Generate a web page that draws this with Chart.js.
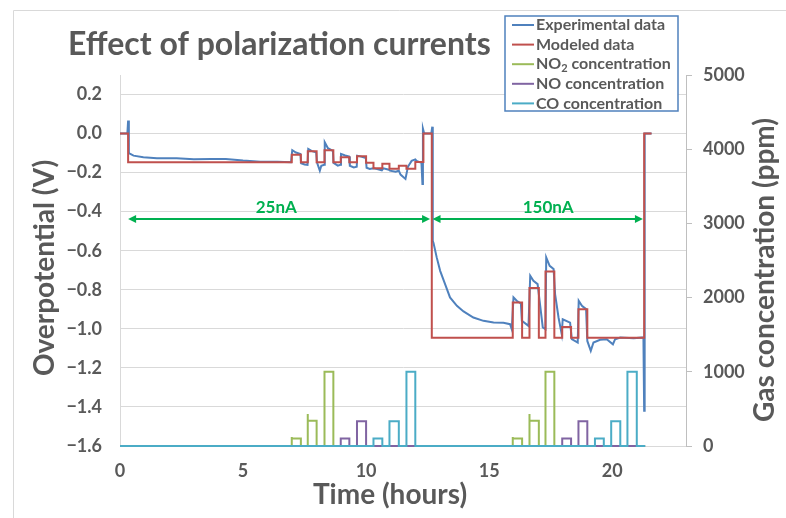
<!DOCTYPE html>
<html>
<head>
<meta charset="utf-8">
<title>Effect of polarization currents</title>
<script src="https://cdn.jsdelivr.net/npm/chart.js@4.4.1/dist/chart.umd.min.js"></script>
<style>
    html, body { margin: 0; padding: 0; background: #ffffff; }
    #wrap { width: 786px; height: 518px; position: relative; }
</style>
</head>
<body>
<div id="wrap"><canvas id="polChart"></canvas></div>
<script>
// Experimental overpotential (V) vs time (hours)
const expTime = [0, 0.30, 0.33, 0.36, 0.40, 0.55, 0.95, 1.5, 2.3, 3.0, 3.7, 4.3, 5.0, 5.7, 6.4, 6.95,
    7.00, 7.15, 7.33, 7.36, 7.50, 7.62, 7.65, 7.80, 7.97, 8.01, 8.12, 8.18, 8.30,
    8.32, 8.45, 8.65, 8.68, 8.85, 8.96, 8.98, 9.15, 9.31, 9.34, 9.50, 9.62,
    9.64, 9.80, 9.99, 10.02, 10.15, 10.29, 10.45, 10.64, 10.70, 10.93, 10.97, 11.20, 11.33,
    11.40, 11.60, 11.70, 11.85, 12.00, 12.05, 12.25, 12.29, 12.31, 12.36, 12.65, 12.69,
    12.71, 12.74, 12.87, 13.01, 13.21, 13.41, 13.69, 13.96, 14.36, 14.77, 15.18, 15.58, 15.85, 15.92,
    15.99, 16.12, 16.29, 16.33, 16.60, 16.67, 16.80, 16.97, 17.05, 17.18, 17.29,
    17.32, 17.46, 17.62, 17.68, 17.82, 17.95, 17.99, 18.29, 18.36, 18.60,
    18.64, 18.77, 18.94, 18.99, 19.13, 19.24, 19.51, 19.78, 20.03, 20.12, 20.33, 20.87, 21.27,
    21.30, 21.32, 21.60];
const expVolt = [0, 0, 0.067, -0.100, -0.103, -0.113, -0.121, -0.126, -0.126, -0.132, -0.130, -0.130, -0.138, -0.144, -0.144, -0.147,
    -0.085, -0.097, -0.104, -0.152, -0.158, -0.160, -0.079, -0.090, -0.096, -0.150, -0.190, -0.165, -0.160,
    -0.044, -0.075, -0.088, -0.150, -0.164, -0.160, -0.104, -0.112, -0.118, -0.165, -0.173, -0.170,
    -0.113, -0.118, -0.125, -0.175, -0.181, -0.178, -0.182, -0.188, -0.178, -0.185, -0.190, -0.195, -0.190,
    -0.210, -0.232, -0.170, -0.140, -0.132, -0.140, -0.150, -0.258, 0.025, 0.0, 0.0, 0.035,
    -0.549, -0.560, -0.634, -0.703, -0.771, -0.839, -0.882, -0.911, -0.942, -0.959, -0.968, -0.969, -0.976, -1.002,
    -0.839, -0.856, -0.870, -0.959, -0.985, -0.728, -0.754, -0.771, -0.856, -0.993, -1.002,
    -0.634, -0.677, -0.694, -0.822, -0.942, -1.027, -0.951, -0.968, -1.053, -1.070,
    -0.856, -0.882, -0.899, -1.062, -1.113, -1.070, -1.056, -1.053, -1.079, -1.053, -1.044, -1.048, -1.044,
    -1.420, 0.0, 0.0];

// Modeled overpotential (V), value holds until the next time
const modTime = [0, 0.33, 6.98, 7.35, 7.63, 7.99, 8.31, 8.67, 8.97, 9.32, 9.63, 10.0, 10.3, 10.66, 10.95, 11.33, 11.64, 12.0,
    12.33, 12.67, 15.96, 16.34, 16.64, 17.02, 17.29, 17.65, 17.97, 18.33, 18.63, 18.99, 21.30, 21.60];
const modVolt = [0, -0.147, -0.108, -0.147, -0.091, -0.147, -0.086, -0.147, -0.121, -0.147, -0.116, -0.150, -0.178, -0.155, -0.180, -0.165, -0.180, -0.145,
    0, -1.045, -0.865, -1.045, -0.791, -1.045, -0.706, -1.045, -0.990, -1.045, -0.900, -1.045, 0, 0];

// Gas concentrations (ppm), value holds until the next time
const no2Time = [0, 6.98, 6.98, 7.35, 7.63, 7.63, 7.99, 8.31, 8.67, 15.96, 15.96, 16.34, 16.64, 16.64, 17.02, 17.29, 17.65, 21.34];
const no2Conc = [0, 120, 100, 0, 430, 340, 0, 1000, 0, 120, 100, 0, 430, 340, 0, 1000, 0, 0];
const noTime = [0, 8.97, 9.32, 9.63, 10.0, 17.97, 18.33, 18.63, 18.99, 21.34];
const noConc = [0, 100, 0, 335, 0, 100, 0, 335, 0, 0];
const coTime = [0, 10.3, 10.66, 10.95, 11.33, 11.64, 12.0, 19.3, 19.66, 19.96, 20.33, 20.62, 21.0, 21.34];
const coConc = [0, 100, 0, 335, 0, 1000, 0, 100, 0, 335, 0, 1000, 0, 0];

// Axes
const timeTicks = [0, 5, 10, 15, 20];
const voltTicks = [-1.6, -1.4, -1.2, -1.0, -0.8, -0.6, -0.4, -0.2, 0.0, 0.2];
const concTicks = [0, 1000, 2000, 3000, 4000, 5000];

// Current annotations
const currentLabels = ['25nA', '150nA'];
const currentFrom = [0.33, 12.7];
const currentTo = [12.6, 21.25];
const currentLabelAt = [6.35, 17.4];
const currentLevel = -0.437;

const GRAY = '#595959';
const GRID = '#D9D9D9';
const FONT = 'Lato, "Open Sans", sans-serif';

function toPoints(xs, ys) {
    return xs.map((x, i) => ({ x: x, y: ys[i] }));
}

function fixedTicks(values) {
    return (scale) => { scale.ticks = values.map(v => ({ value: v })); };
}

// Title, axis titles, frame, legend and current arrows
const decorPlugin = {
    id: 'decor',
    beforeDraw(chart) {
        const ctx = chart.ctx;
        ctx.save();
        ctx.strokeStyle = GRID;
        ctx.lineWidth = 1;
        ctx.beginPath();
        ctx.moveTo(13.5, chart.height);
        ctx.lineTo(13.5, 10.5);
        ctx.lineTo(chart.width, 10.5);
        ctx.stroke();
        ctx.restore();
    },
    afterDraw(chart) {
        const ctx = chart.ctx;
        const xs = chart.scales.x;
        const ys = chart.scales.y;
        ctx.save();

        // chart title
        ctx.fillStyle = GRAY;
        ctx.font = 'bold 32px ' + FONT;
        ctx.textBaseline = 'middle';
        ctx.textAlign = 'left';
        ctx.fillText('Effect of polarization currents', 68, 45);

        // axis titles
        ctx.font = 'bold 28px ' + FONT;
        ctx.textAlign = 'center';
        ctx.fillText('Time (hours)', 390, 495);
        ctx.save();
        ctx.translate(45, 268);
        ctx.rotate(-Math.PI / 2);
        ctx.fillText('Overpotential (V)', 0, 0);
        ctx.restore();
        ctx.save();
        ctx.translate(765, 270);
        ctx.rotate(-Math.PI / 2);
        ctx.fillText('Gas concentration (ppm)', 0, 0);
        ctx.restore();

        // double arrows for the polarization currents
        const ay = ys.getPixelForValue(currentLevel);
        ctx.strokeStyle = '#00B050';
        ctx.fillStyle = '#00B050';
        ctx.lineWidth = 2;
        currentLabels.forEach((lab, i) => {
            const x1 = xs.getPixelForValue(currentFrom[i]);
            const x2 = xs.getPixelForValue(currentTo[i]);
            ctx.beginPath();
            ctx.moveTo(x1 + 6, ay);
            ctx.lineTo(x2 - 6, ay);
            ctx.stroke();
            ctx.beginPath();
            ctx.moveTo(x1, ay); ctx.lineTo(x1 + 8, ay - 4); ctx.lineTo(x1 + 8, ay + 4); ctx.closePath();
            ctx.moveTo(x2, ay); ctx.lineTo(x2 - 8, ay - 4); ctx.lineTo(x2 - 8, ay + 4); ctx.closePath();
            ctx.fill();
            ctx.font = 'bold 17px ' + FONT;
            ctx.textAlign = 'center';
            ctx.fillText(lab, xs.getPixelForValue(currentLabelAt[i]), ay - 11);
        });

        // legend box
        const lx = 505, ly = 16, lw = 173, lh = 95;
        ctx.fillStyle = '#ffffff';
        ctx.fillRect(lx, ly, lw, lh);
        ctx.strokeStyle = '#4F81BD';
        ctx.lineWidth = 1.5;
        ctx.strokeRect(lx, ly, lw, lh);
        ctx.textAlign = 'left';
        chart.data.datasets.forEach((ds, i) => {
            const ry = 25 + i * 19.6;
            ctx.strokeStyle = ds.borderColor;
            ctx.lineWidth = 2;
            ctx.beginPath();
            ctx.moveTo(512, ry);
            ctx.lineTo(534, ry);
            ctx.stroke();
            ctx.fillStyle = GRAY;
            ctx.font = 'bold 16px ' + FONT;
            if (ds.sub) {
                const [pre, post] = ds.label.split('_' + ds.sub);
                ctx.fillText(pre, 536, ry);
                let w = ctx.measureText(pre).width;
                ctx.font = 'bold 11px ' + FONT;
                ctx.fillText(ds.sub, 536 + w, ry + 4);
                w += ctx.measureText(ds.sub).width;
                ctx.font = 'bold 16px ' + FONT;
                ctx.fillText(post, 536 + w, ry);
            } else {
                ctx.fillText(ds.label, 536, ry);
            }
        });
        ctx.restore();
    }
};

const lineBase = { pointRadius: 0, borderWidth: 2, tension: 0, fill: false };
const tickFont = { family: FONT, size: 18, weight: 'bold' };

new Chart(document.getElementById('polChart'), {
    type: 'line',
    data: {
        datasets: [
            { ...lineBase, label: 'Experimental data', data: toPoints(expTime, expVolt), borderColor: '#4F81BD', yAxisID: 'y', order: 4 },
            { ...lineBase, label: 'Modeled data', data: toPoints(modTime, modVolt), borderColor: '#C0504D', stepped: 'before', yAxisID: 'y', order: 3 },
            { ...lineBase, label: 'NO_2 concentration', sub: '2', data: toPoints(no2Time, no2Conc), borderColor: '#9BBB59', stepped: 'before', yAxisID: 'y1', order: 2, clip: false },
            { ...lineBase, label: 'NO concentration', data: toPoints(noTime, noConc), borderColor: '#8064A2', stepped: 'before', yAxisID: 'y1', order: 1, clip: false },
            { ...lineBase, label: 'CO concentration', data: toPoints(coTime, coConc), borderColor: '#4BACC6', stepped: 'before', yAxisID: 'y1', order: 0, clip: false }
        ]
    },
    options: {
        responsive: true,
        maintainAspectRatio: false,
        animation: false,
        layout: { padding: { top: 75, left: 0, right: 0, bottom: 0 } },
        plugins: { legend: { display: false }, tooltip: { enabled: false } },
        scales: {
            x: {
                type: 'linear', min: 0, max: 23,
                afterBuildTicks: fixedTicks(timeTicks),
                afterFit: (s) => { s.height = 72; },
                grid: { display: false, drawTicks: false },
                border: { display: true, color: GRID },
                ticks: { padding: 14, color: GRAY, font: tickFont }
            },
            y: {
                position: 'left', min: -1.6, max: 0.3,
                afterBuildTicks: fixedTicks(voltTicks),
                afterFit: (s) => { s.width = 120; },
                grid: { color: GRID, drawTicks: false },
                border: { display: true, color: GRID },
                ticks: {
                    padding: 18, color: GRAY, font: tickFont,
                    callback: (v) => (v < 0 ? '\u2212' : '') + Math.abs(v).toFixed(1)
                }
            },
            y1: {
                position: 'right', min: 0, max: 5000,
                afterBuildTicks: fixedTicks(concTicks),
                afterFit: (s) => { s.width = 100; },
                grid: { drawOnChartArea: false, color: '#BFBFBF', tickLength: 6 },
                border: { display: true, color: '#BFBFBF' },
                ticks: { padding: 11, color: GRAY, font: tickFont, callback: (v) => String(v) }
            }
        }
    },
    plugins: [decorPlugin]
});
</script>
</body>
</html>
